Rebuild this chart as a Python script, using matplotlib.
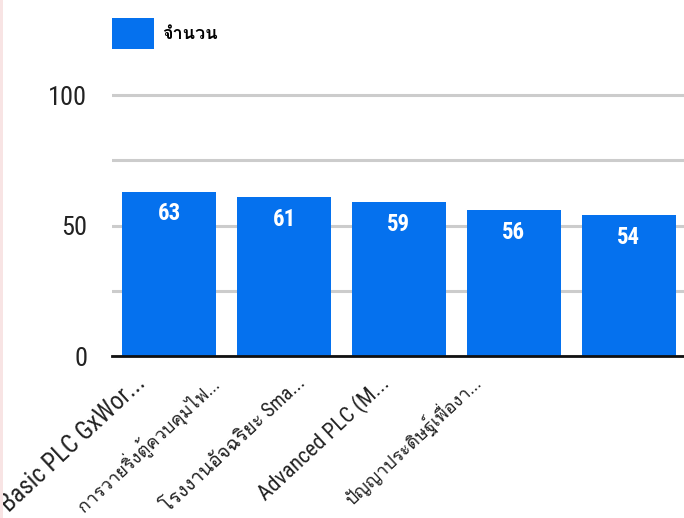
import numpy as np
import matplotlib
matplotlib.use("Agg")
import matplotlib.pyplot as plt
from matplotlib import font_manager
from matplotlib.ft2font import FT2Font
from matplotlib.patches import Rectangle

# ---------------- data ----------------
categories = ["Basic PLC GxWor...", "การวายริ่งตู้ควบคุมไฟ...", "โรงงานอัจฉริยะ Sma...",
              "Advanced PLC (M...", "ปัญญาประดิษฐ์เพื่องา..."]
values = [63, 61, 59, 56, 54]
series_name = "จำนวน"
y_ticks = [0, 50, 100]

# label style: sizes and where each slanted label ends (the reference's
# labels are not centred under the bars)
label_sizes = [17.8, 13.1, 14.2, 15.8, 13.0]
label_anchor = [-0.24, 0.40, 1.16, 1.89, 2.69]

# ---------------- fonts ----------------
names = {f.name for f in font_manager.fontManager.ttflist}
latin = "DejaVu Sans"
for cand in ["Roboto Condensed", "Liberation Sans Narrow", "Roboto"]:
    if cand in names:
        latin = cand
        break
thai = None
for f in font_manager.fontManager.ttflist:
    try:
        cm = FT2Font(f.fname).get_charmap()
        if 0x0E08 in cm and 0x0E19 in cm:
            thai = f.name
            break
    except Exception:
        pass
fam = [latin] + ([thai] if thai else []) + ["DejaVu Sans"]
plt.rcParams["font.family"] = fam

W, H = 684, 518
fig = plt.figure(figsize=(W / 100, H / 100), dpi=100)
fig.patch.set_facecolor("white")

left = 112 / W
right = 686 / W
y0 = 356
ppu = 2.61
ytop = 101
bottom = (H - y0) / H
height = ytop * ppu / H
ax = fig.add_axes([left, bottom, right - left, height])

blue = "#0571ee"
x = np.arange(len(categories))
bars = ax.bar(x, values, width=0.82, color=blue, zorder=3, label=series_name)
ax.set_xlim(-0.5, len(categories) - 0.5)
ax.set_ylim(0, ytop)

ax.set_yticks([25, 75], minor=True)
ax.set_yticks(y_ticks)
ax.set_yticklabels([str(t) for t in y_ticks], fontsize=19, color="#222222")
ax.tick_params(axis="y", which="both", length=0, pad=18)
ax.grid(axis="y", which="both", color="#cccccc", linewidth=2.2, zorder=0)
for s in ["left", "right", "top"]:
    ax.spines[s].set_visible(False)
ax.spines["bottom"].set_color("#111111")
ax.spines["bottom"].set_linewidth(2)
ax.spines["bottom"].set_zorder(4)

# category labels (slanted)
ax.set_xticks(label_anchor)
ax.set_xticklabels(categories, rotation=43, ha="right", va="center",
                   rotation_mode="anchor", color="#222222")
for t, s in zip(ax.get_xticklabels(), label_sizes):
    t.set_fontsize(s)
ax.tick_params(axis="x", length=0, pad=17)

# value labels
for b, v in zip(bars, values):
    ax.annotate(str(v), (b.get_x() + b.get_width() / 2, v), xytext=(0, -16),
                textcoords="offset points", ha="center", va="center",
                color="white", fontsize=16.5, fontweight="bold", zorder=5)

# legend
leg = fig.legend(handles=[bars], labels=[series_name], loc="upper left",
                 bbox_to_anchor=(112 / W, 1 - 18 / H), frameon=False,
                 fontsize=13, handlelength=2.35, handleheight=2.25,
                 handletextpad=0.45, borderpad=0, borderaxespad=0)
for t in leg.get_texts():
    t.set_fontweight("bold")

# faint left border
fig.add_artist(Rectangle((0, 0), 3 / W, 1, transform=fig.transFigure,
                         color="#f8e4e4", lw=0))

fig.savefig("out.png", dpi=100)
